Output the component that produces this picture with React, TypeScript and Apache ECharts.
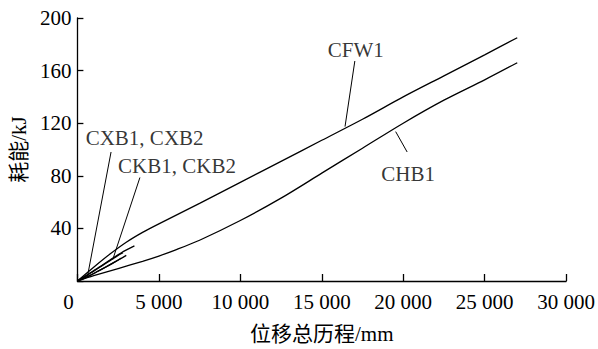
import React, { useEffect, useRef } from "react";
import * as echarts from "echarts";

const xTicks = [0, 5000, 10000, 15000, 20000, 25000, 30000];
const yTicks = [40, 80, 120, 160, 200];

const cfw1: [number, number][] = [[0,0],[1000,10.5],[2000,20.5],[3000,29.5],[4000,37],[5000,43.5],[7500,59],[10000,75],[12500,91],[15000,107],[17500,123],[20000,140],[22500,156],[25000,172],[27000,185]];
const chb1: [number, number][] = [[0,0],[1000,4],[2500,9.5],[4000,15],[5000,19],[6000,23.5],[7500,31],[10000,46],[12500,63],[15000,82],[17500,101],[20000,120],[22500,137.5],[25000,153],[27000,166]];
const cxb1: [number, number][] = [[0,0],[500,3.5],[1000,7.5],[1500,11.5],[2000,15.5],[2500,19.5],[2800,21.5]];
const cxb2: [number, number][] = [[0,0],[600,3],[1200,7],[1800,11],[2300,14.5],[2700,17.5]];
const ckb1: [number, number][] = [[0,0],[700,5.5],[1400,11],[2000,16],[2700,21.5],[3500,26.7]];
const ckb2: [number, number][] = [[0,0],[800,4.5],[1500,9],[2100,13],[2600,16.5],[3000,19.5]];

const labelTexts = ["CFW1", "CHB1", "CXB1, CXB2", "CKB1, CKB2"];
const labelPos: [number, number][] = [[17090, 176], [20301, 81.3], [4126, 109], [6114, 87.3]];
const leaders: [number, number][][] = [
  [[17030, 167.3], [16428, 117.4]],
  [[20241, 98.1], [19536, 113.6]],
  [[2066, 98.1], [602, 2.5]],
  [[3837, 78.7], [2169, 16.3]],
];

const FONT = "'Liberation Serif', 'Times New Roman', 'Noto Sans CJK SC', serif";
const FS = 21;

export default function App() {
  const ref = useRef<HTMLDivElement>(null);
  useEffect(() => {
    const chart = echarts.init(ref.current!, null, { renderer: "svg" });
    const lineStyle = { color: "#000", width: 1.3 };
    const curve = (name: string, data: [number, number][]) => ({
      type: "line", name, data, showSymbol: false, symbol: "none",
      lineStyle, itemStyle: { color: "#000" }, smooth: 0.3, z: 3,
    });
    const series: any[] = [
      curve("CFW1", cfw1), curve("CHB1", chb1),
      curve("CXB1", cxb1), curve("CXB2", cxb2),
      curve("CKB1", ckb1), curve("CKB2", ckb2),
    ];
    leaders.forEach((l, i) => {
      series.push({
        type: "line", name: "leader" + i, data: l, symbol: "none",
        lineStyle: { color: "#000", width: 1 }, z: 2,
      });
    });
    series.push({
      type: "scatter", name: "labels",
      data: labelPos.map((p, i) => ({ value: p, name: labelTexts[i] })),
      symbolSize: 1, itemStyle: { color: "rgba(0,0,0,0)" },
      label: {
        show: true, position: "inside", formatter: (p: any) => p.name,
        color: "#000", fontFamily: FONT, fontSize: FS,
      },
    });
    chart.setOption({
      animation: false,
      backgroundColor: "#fff",
      grid: { left: 69, top: 18, right: 31, bottom: 64, containLabel: false },
      xAxis: {
        type: "value", min: 0, max: 30000, interval: 5000,
        name: "位移总历程/mm", nameLocation: "middle", nameGap: 42,
        nameTextStyle: { color: "#000", fontSize: FS, fontFamily: FONT },
        axisLine: { lineStyle: { color: "#000", width: 1.3 } },
        axisTick: { inside: true, length: 7, lineStyle: { color: "#000", width: 1.3 } },
        splitLine: { show: false },
        axisLabel: {
          color: "#000", fontSize: FS, fontFamily: FONT, margin: 10,
          formatter: (v: number) => {
            if (v === 0) return "{z|0}";
            const s = String(v);
            return s.slice(0, s.length - 3) + " " + s.slice(-3);
          },
          rich: { z: { fontSize: FS, fontFamily: FONT, color: "#000", padding: [0, 18, 0, 0] } },
        },
      },
      yAxis: {
        type: "value", min: 0, max: 200, interval: 40,
        name: "耗能/kJ", nameLocation: "middle", nameGap: 43, nameRotate: 90,
        nameTextStyle: { color: "#000", fontSize: FS, fontFamily: FONT },
        axisLine: { show: true, lineStyle: { color: "#000", width: 1.3 } },
        axisTick: { show: true, inside: true, length: 6, lineStyle: { color: "#000", width: 1.3 } },
        splitLine: { show: false },
        axisLabel: {
          color: "#000", fontSize: FS, fontFamily: FONT, margin: 6,
          formatter: (v: number) => (yTicks.includes(v) ? String(v) : ""),
        },
      },
      series,
    });
    return () => chart.dispose();
  }, []);
  return <div ref={ref} style={{ width: 598, height: 349, position: "absolute", left: 0, top: 0 }} />;
}
